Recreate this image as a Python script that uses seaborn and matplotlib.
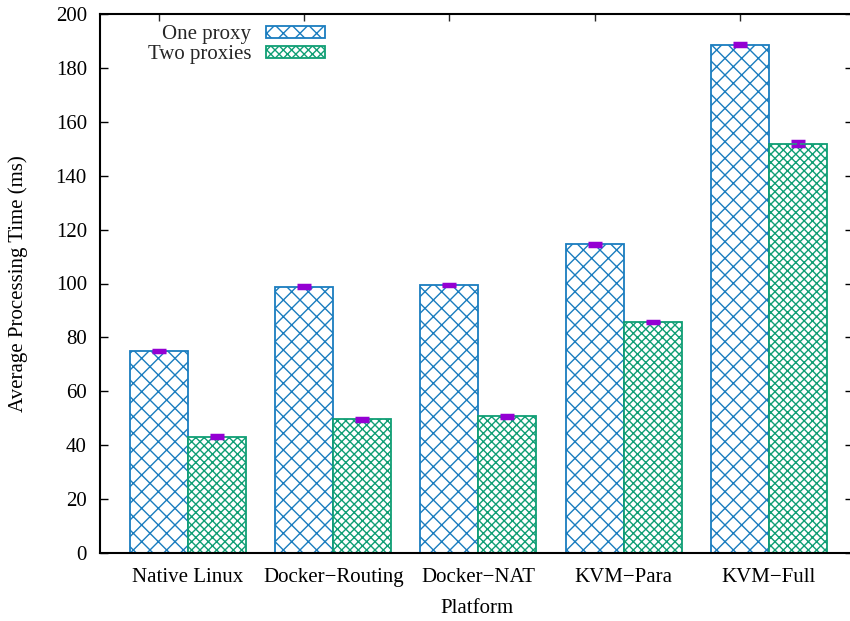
import matplotlib
matplotlib.use("Agg")
import matplotlib.pyplot as plt
import seaborn as sns
import pandas as pd
import numpy as np
from matplotlib.patches import Patch

platforms = ["Native Linux", "Docker\u2212Routing", "Docker\u2212NAT", "KVM\u2212Para", "KVM\u2212Full"]
series_names = ["One proxy", "Two proxies"]
one_proxy = [75.0, 98.8, 99.4, 114.6, 188.6]
two_proxies = [43.2, 49.6, 50.7, 85.7, 151.9]
one_err = [0.5, 0.5, 0.5, 0.5, 0.6]
two_err = [0.5, 0.5, 0.5, 0.5, 0.8]

df = pd.DataFrame({
    "Platform": platforms * 2,
    "Series": [series_names[0]] * len(platforms) + [series_names[1]] * len(platforms),
    "Time": one_proxy + two_proxies,
})

sns.set_theme(style="white")
plt.rcParams["font.family"] = ["Liberation Serif", "DejaVu Serif"]
plt.rcParams["hatch.linewidth"] = 1.0

colors = ["#1a7dbf", "#0f9e74"]
hatches = ["xx", "xxxx"]
FS = 15

W, H = 850, 621
L, R, T, B = 100, 853, 14, 553
fig = plt.figure(figsize=(W / 100, H / 100), dpi=100)
ax = fig.add_axes([L / W, (H - B) / H, (R - L) / W, (B - T) / H])

sns.barplot(data=df, x="Platform", y="Time", hue="Series", order=platforms,
            hue_order=series_names, width=0.8, ax=ax, legend=False,
            palette=colors, errorbar=None)

for cont, col, h in zip(ax.containers, colors, hatches):
    for p in cont:
        p.set_facecolor("white")
        p.set_edgecolor(col)
        p.set_hatch(h)
        p.set_linewidth(1.3)

x = np.arange(len(platforms))
ax.errorbar(x - 0.2, one_proxy, yerr=one_err, fmt="none", ecolor="#9400d3",
            elinewidth=2, capsize=5, capthick=2.5, zorder=5)
ax.errorbar(x + 0.2, two_proxies, yerr=two_err, fmt="none", ecolor="#9400d3",
            elinewidth=2, capsize=5, capthick=2.5, zorder=5)

ax.set_xlim((L - 188) / 145.2, (R - 188) / 145.2)
ax.set_ylim(0, 200)
ax.set_yticks(np.arange(0, 201, 20))
ax.tick_params(axis="y", direction="in", length=6, width=1, left=True, right=True,
               labelsize=FS, pad=9.5, colors="black")
ax.tick_params(axis="x", length=0, labelsize=FS, pad=11, colors="black")

sec = ax.secondary_xaxis("top")
sec.set_xticks(x - 0.2)
sec.tick_params(direction="in", length=5, width=1, labeltop=False)
sec.spines["top"].set_visible(False)

for s in ax.spines.values():
    s.set_visible(True)
    s.set_color("black")
    s.set_linewidth(1.5)

ax.set_xlabel("Platform", fontsize=FS, color="black")
ax.set_ylabel("Average Processing Time (ms)", fontsize=FS, color="black")
ax.yaxis.set_label_coords((28 - L) / (R - L), 0.5)
ax.xaxis.set_label_coords(0.5, (B - 599) / (B - T))

handles = [Patch(facecolor="white", edgecolor=c, hatch=h, linewidth=1.3) for c, h in zip(colors, hatches)]
leg = fig.legend(handles, series_names, loc="upper right",
                 bbox_to_anchor=(325 / W, 1 - 25 / H),
                 frameon=False, markerfirst=False, fontsize=FS, handlelength=2.85,
                 handleheight=0.5, labelspacing=0.05, handletextpad=0.7,
                 borderpad=0, borderaxespad=0)

fig.savefig("out.png", dpi=100)
